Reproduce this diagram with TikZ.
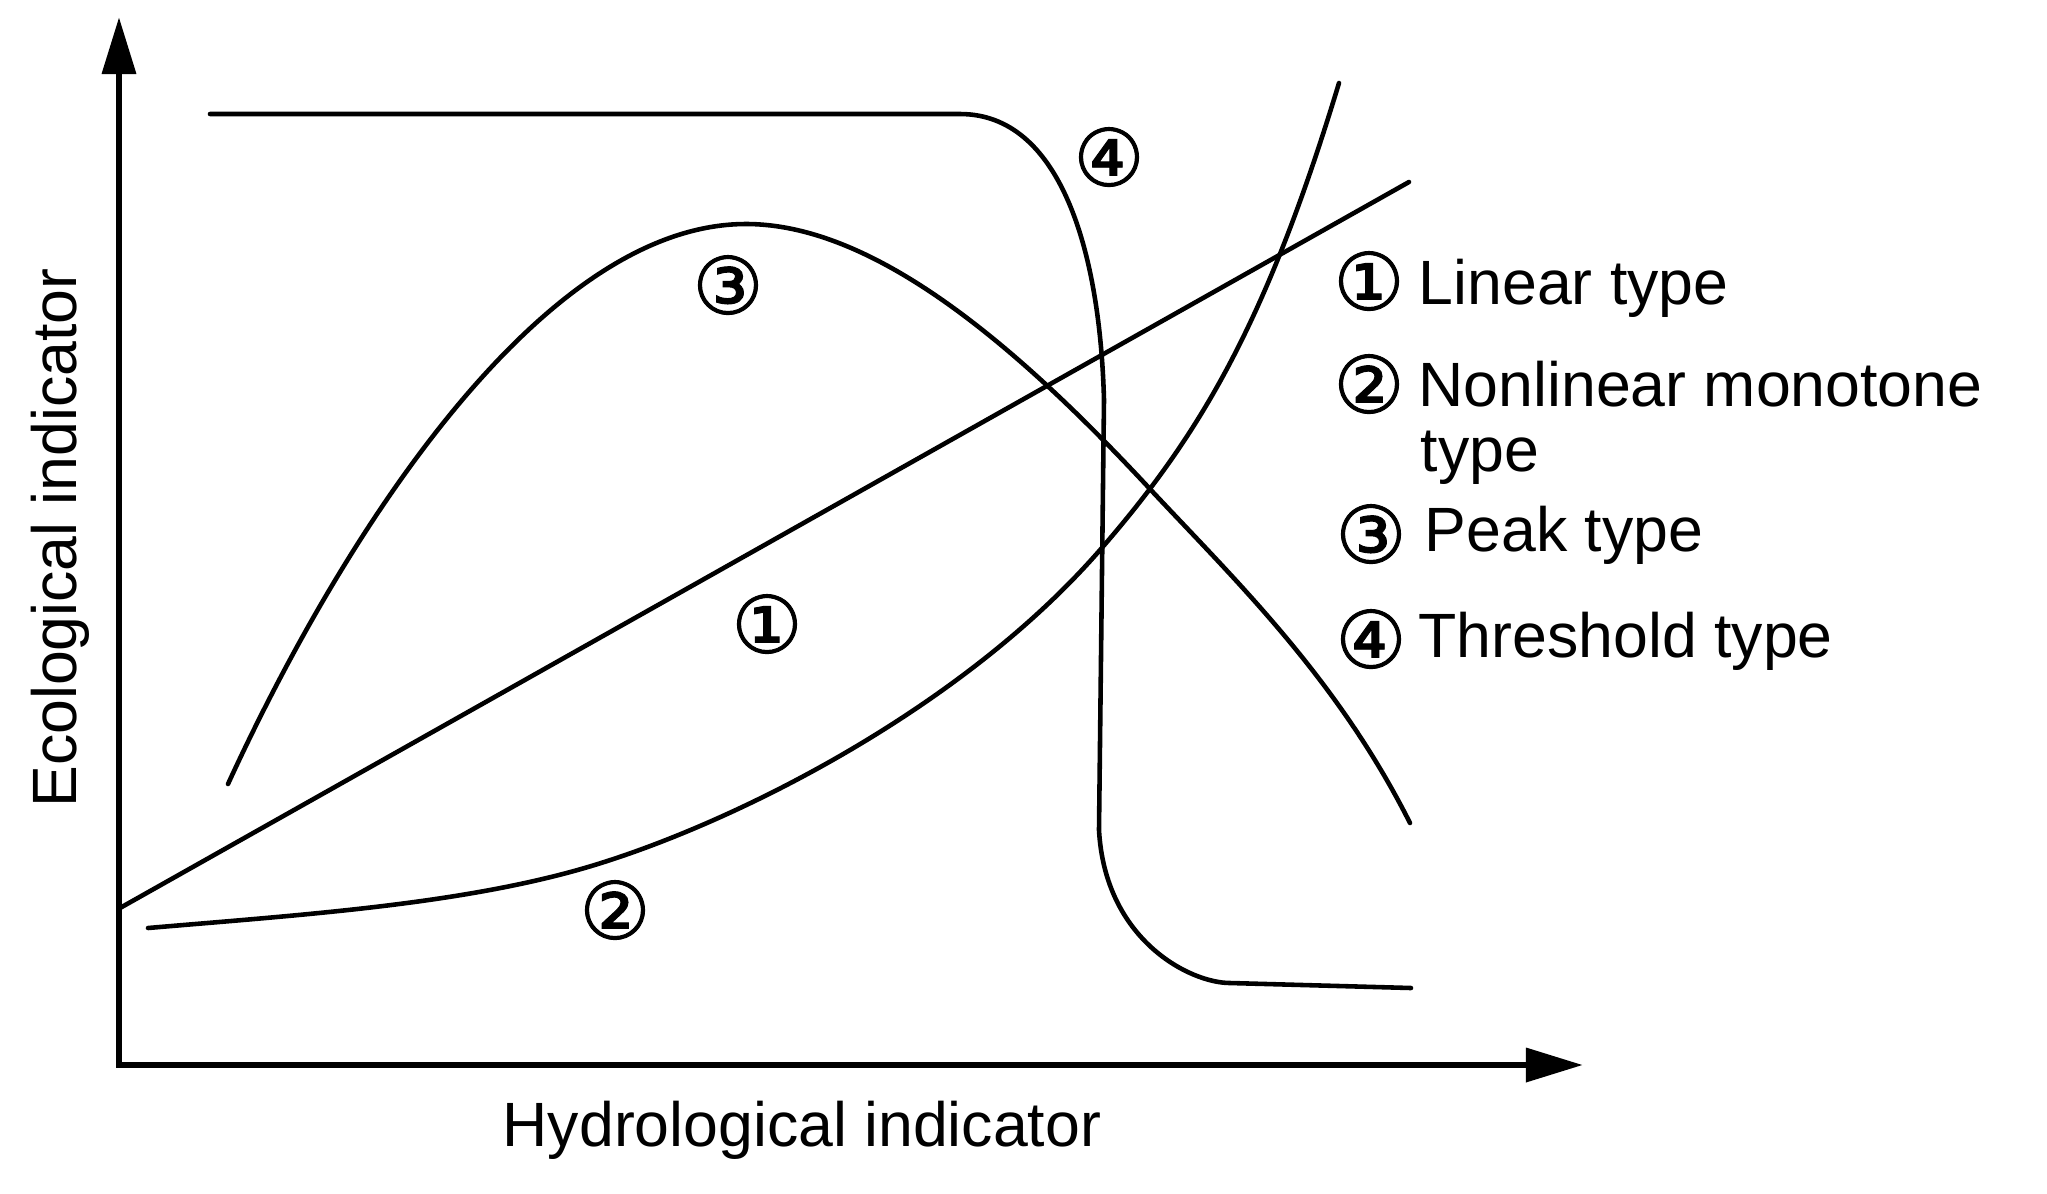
\documentclass[tikz,border=0pt]{standalone}
\usepackage{fontspec}
\setmainfont{Liberation Sans}
\newfontfamily\circfont[FakeBold=1.2]{DejaVu Sans}
\usetikzlibrary{arrows.meta}
\begin{document}
\begin{tikzpicture}[x=0.01cm,y=-0.01cm,
  curve/.style={line width=1.3pt, line cap=round, line join=round},
  axisline/.style={line width=1.9pt, line join=miter,
    {Triangle[length=0.57cm,width=0.33cm]}-{Triangle[length=0.57cm,width=0.33cm]}},
  lbl/.style={font=\fontsize{17.8pt}{21pt}\selectfont, inner sep=0},
  circ/.style={font=\circfont\fontsize{22.5pt}{22.5pt}\selectfont, inner sep=0}]
\useasboundingbox (0,0) rectangle (2047,1193);

% axes
\coordinate (ytip) at (119,17);
\coordinate (origin) at (119,1065);
\coordinate (xtip) at (1583,1065);
\draw[axisline] (ytip) -- (origin) -- (xtip);

% axis labels
\node[lbl, anchor=base] (xlab) at (802,1146) {Hydrological indicator};
\node[lbl, anchor=base, rotate=90] (ylab) at (77,538) {Ecological indicator};

% curve 1: linear
\coordinate (c1a) at (120,908);
\coordinate (c1b) at (1409,182);
\draw[curve] (c1a) -- (c1b);

% curve 2: nonlinear monotone
\draw[curve] (148,928)
  .. controls (300,915) and (450,905) .. (574,871)
  .. controls (723,830) and (959,712) .. (1100,550)
  .. controls (1200.7,434.2) and (1266.3,322.9) .. (1339,83);

% curve 3: peak
\draw[curve] (228,784)
  .. controls (340,540) and (540,224) .. (746,224)
  .. controls (876,224) and (1020,349) .. (1150,489)
  .. controls (1236,581) and (1337,678) .. (1410,823);

% curve 4: threshold
\draw[curve] (210,114) -- (960,114)
  .. controls (1060,114) and (1100,250) .. (1104,400)
  -- (1099,830)
  .. controls (1105,940) and (1190,983) .. (1230,983)
  -- (1411,988);

% labels on curves
\node[circ] (n3) at (728,285) {③};
\node[circ] (n1) at (767,624) {①};
\node[circ] (n2) at (615,910) {②};
\node[circ] (n4) at (1109,157) {④};

% legend
\node[circ] (l1) at (1369,281) {①};
\node[circ] (l2) at (1369,384) {②};
\node[circ] (l3) at (1371,534) {③};
\node[circ] (l4) at (1371,639) {④};
\node[lbl, anchor=base west] (t1) at (1418,304) {Linear type};
\node[lbl, anchor=base west] (t2) at (1418,406) {Nonlinear monotone};
\node[lbl, anchor=base west] (t2b) at (1420,471) {type};
\node[lbl, anchor=base west] (t3) at (1424,551) {Peak type};
\node[lbl, anchor=base west] (t4) at (1418,657) {Threshold type};
\end{tikzpicture}
\end{document}
